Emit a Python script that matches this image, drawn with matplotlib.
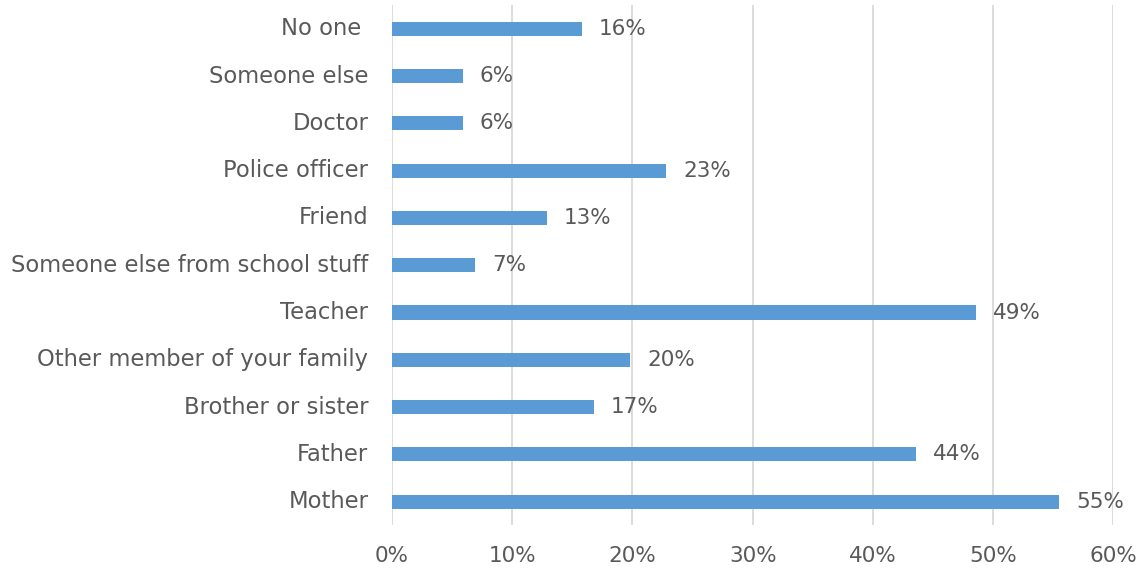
import matplotlib.pyplot as plt
import numpy as np

categories = ["Mother", "Father", "Brother or sister", "Other member of your family",
              "Teacher", "Someone else from school stuff", "Friend", "Police officer",
              "Doctor", "Someone else", "No one "]
values = [55.5, 43.6, 16.8, 19.8, 48.6, 6.9, 12.9, 22.8, 5.9, 5.9, 15.8]
labels = ["55%", "44%", "17%", "20%", "49%", "7%", "13%", "23%", "6%", "6%", "16%"]
ticks = [0, 10, 20, 30, 40, 50, 60]

text_color = "#595959"
bar_color = "#5B9BD5"

plt.rcParams['font.family'] = ['DejaVu Sans']
fig = plt.figure(figsize=(11.43, 5.71), dpi=100)
ax = fig.add_axes([0.343, 0.080, 0.631, 0.911])

y = np.arange(len(categories))
ax.barh(y, values, height=0.3, color=bar_color, zorder=3)
for yi, v, lab in zip(y, values, labels):
    ax.text(v + 1.4, yi, lab, va="center", ha="left", fontsize=15.5, color=text_color)

ax.set_xlim(0, 60)
ax.set_ylim(-0.5, len(categories) - 0.5)
ax.set_xticks(ticks)
ax.set_xticklabels([f"{t}%" for t in ticks])
ax.set_yticks(y)
ax.set_yticklabels(categories, va="center")
ax.tick_params(axis="y", length=0, labelsize=16.3, colors=text_color, pad=17)
ax.tick_params(axis="x", length=0, labelsize=15.5, colors=text_color, pad=15)
ax.grid(axis="x", color="#D9D9D9", linewidth=1.3, zorder=0)
for s in ax.spines.values():
    s.set_visible(False)

fig.savefig("out.png", dpi=100)
